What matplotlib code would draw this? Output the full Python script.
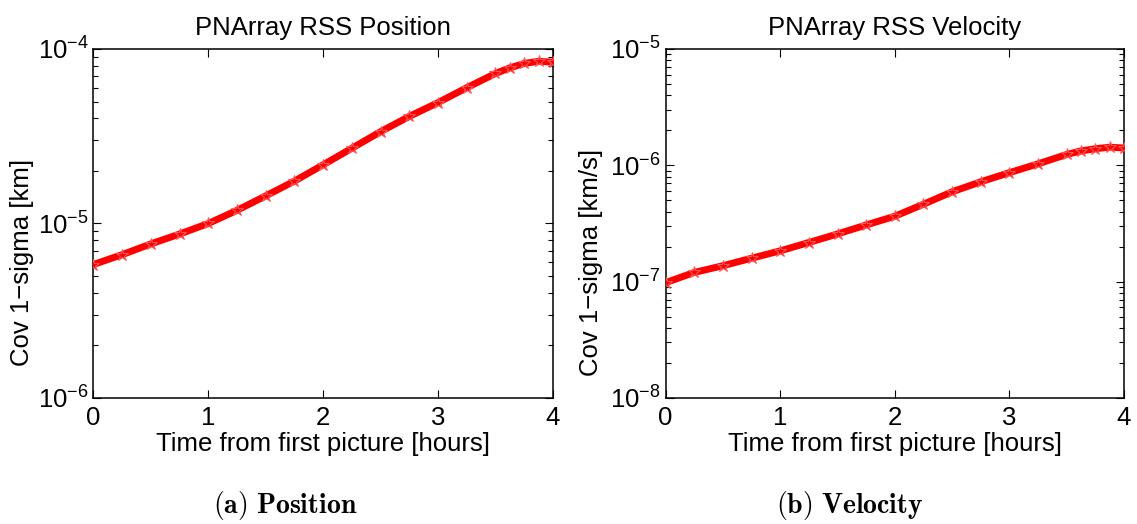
import matplotlib

matplotlib.use("Agg")
import matplotlib.pyplot as plt
from matplotlib.ticker import LogLocator, FixedLocator

plt.rcParams["font.family"] = ["Liberation Sans", "DejaVu Sans"]
plt.rcParams["mathtext.fontset"] = "custom"
plt.rcParams["mathtext.rm"] = "Liberation Sans"
plt.rcParams["mathtext.default"] = "regular"

# time axis (hours from first picture)
time_hr = [0.0, 0.25, 0.5, 0.75, 1.0, 1.25, 1.5, 1.75, 2.0, 2.25, 2.5,
           2.75, 3.0, 3.25, 3.5, 3.625, 3.75, 3.875, 4.0]

# RSS position 1-sigma [km]
pos_sigma = [5.82e-6, 6.63e-6, 7.64e-6, 8.7e-6, 1.0e-5, 1.19e-5, 1.44e-5,
             1.75e-5, 2.17e-5, 2.70e-5, 3.36e-5, 4.11e-5, 4.93e-5, 6.0e-5,
             7.24e-5, 7.8e-5, 8.26e-5, 8.5e-5, 8.4e-5]

# RSS velocity 1-sigma [km/s]
vel_sigma = [0.98e-7, 1.2e-7, 1.37e-7, 1.59e-7, 1.84e-7, 2.17e-7, 2.57e-7,
             3.07e-7, 3.65e-7, 4.63e-7, 5.92e-7, 7.22e-7, 8.65e-7, 1.03e-6,
             1.24e-6, 1.33e-6, 1.39e-6, 1.43e-6, 1.41e-6]

panels = [
    ("PNArray RSS Position", "Cov 1\u2212sigma [km]", pos_sigma, (1e-6, 1e-4),
     r"$\mathbf{(a)\ Position}$", [0.0822, 0.2405, 0.4041, 0.666], 0.251, 0.030),
    ("PNArray RSS Velocity", "Cov 1\u2212sigma [km/s]", vel_sigma, (1e-8, 1e-5),
     r"$\mathbf{(b)\ Velocity}$", [0.5854, 0.2405, 0.4032, 0.666], 0.747, 0.530),
]

fig = plt.figure(figsize=(11.37, 5.24), dpi=100)

for title, ylabel, vals, ylim, caption, rect, cap_x, ylab_x in panels:
    ax = fig.add_axes(rect)
    ax.plot(time_hr, vals, color="red", lw=5, solid_capstyle="butt", zorder=2)
    ax.plot(time_hr, vals, ls="none", marker="*", ms=9, color="red",
            mec="#ff5555", mew=0.8, zorder=3)
    ax.set_yscale("log")
    ax.set_xlim(0, 4)
    ax.set_ylim(*ylim)
    ax.xaxis.set_major_locator(FixedLocator([0, 1, 2, 3, 4]))
    ax.yaxis.set_major_locator(LogLocator(base=10, numticks=10))
    ax.yaxis.set_minor_locator(LogLocator(base=10, subs=range(2, 10), numticks=10))
    ax.tick_params(which="both", direction="in", top=True, right=True,
                   labelsize=18.5, width=0.8, colors="black")
    ax.tick_params(which="major", length=6)
    ax.tick_params(which="minor", length=3.5)
    ax.tick_params(axis="x", pad=6)
    for sp in ax.spines.values():
        sp.set_linewidth(1.1)
    ax.set_title(title, fontsize=18.5, pad=10)
    ax.set_xlabel("Time from first picture [hours]", fontsize=18.5, labelpad=1)
    ax.set_ylabel(ylabel, fontsize=18.5)
    ax.yaxis.set_label_coords(ylab_x, 0.5, transform=fig.transFigure)
    fig.text(cap_x, 0.036, caption, ha="center", va="center", fontsize=20,
             math_fontfamily="cm")

fig.savefig("out.png", dpi=100)
